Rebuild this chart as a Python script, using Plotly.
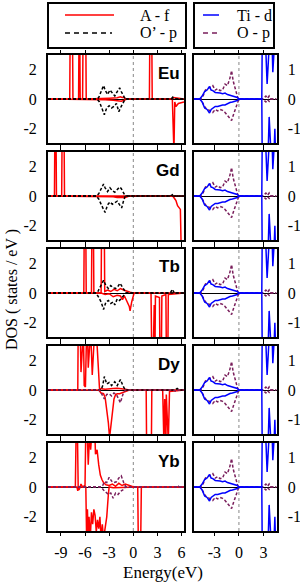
import plotly.graph_objects as go

# ---------------- data (energies in eV, DOS in states/eV) ----------------
COMPOUNDS = ["Eu", "Gd", "Tb", "Dy", "Yb"]
LEFT_TICKS = [-9, -6, -3, 0, 3, 6]
RIGHT_TICKS = [-3, 0, 3]
LEFT_Y_TICKS = [-2, 0, 2]
RIGHT_Y_TICKS = [-1, 0, 1]

# Eu
EU_F_UP_E = [-10.6, -7.9, -7.85, -7.8, -7.6, -7.55, -7.5, -6.8, -6.75, -6.65, -6.6, -6.3, -6.25, -6.1, -6.0, -5.9, -5.85, -4.3, -3.0, -2.0, -1.6, -1.4, -1.2, -0.9, 2.0, 2.05, 2.3, 2.35, 4.8, 5.0, 6.3]
EU_F_UP = [0, 0, 4, 4, 4, 4, 0, 0, 4, 4, 0, 0, 4, 4, 4, 4, 0, 0, 0.05, 0.08, 0.15, 0.1, 0.12, 0, 0, 4, 4, 0, 0, 0.1, 0]
EU_F_DN_E = [-10.6, -4.3, -3.5, -2.5, -2.0, -1.5, -1.2, -0.8, 4.85, 4.95, 5.05, 5.15, 5.3, 5.6, 6.3]
EU_F_DN = [0, 0, -0.05, -0.08, -0.1, -0.15, -0.1, 0, 0, -3.5, -3.5, -0.2, -0.5, -0.3, -0.2]
EU_OP_UP_E = [-10.6, -4.5, -4.3, -4.0, -3.7, -3.5, -3.2, -2.9, -2.6, -2.3, -2.0, -1.7, -1.5, -1.2, -1.0, 4.7, 4.9, 5.1, 6.3]
EU_OP_UP = [0, 0, 0.1, 0.5, 0.9, 0.6, 0.3, 0.6, 0.4, 0.2, 0.5, 0.75, 0.5, 0.2, 0, 0, 0.12, 0, 0]
EU_OP_DN_E = [-10.6, -4.5, -4.2, -3.9, -3.6, -3.3, -3.0, -2.7, -2.4, -2.1, -1.8, -1.5, -1.2, -1.0, 6.3]
EU_OP_DN = [0, 0, -0.2, -0.7, -1.05, -0.6, -0.45, -0.6, -0.5, -0.3, -0.85, -0.5, -0.2, 0, 0]

# Gd
GD_F_UP_E = [-10.6, -9.8, -9.75, -9.6, -9.55, -8.9, -8.85, -8.6, -8.55, -2.0, -1.5, -1.0, -0.5, 6.3]
GD_F_UP = [0, 0, 4, 4, 0, 0, 4, 4, 0, 0, 0.05, 0.05, 0, 0]
GD_F_DN_E = [-10.6, -3.0, -2.5, -2.0, -1.5, -1.0, -0.5, 4.9, 5.1, 5.3, 5.5, 5.7, 5.85, 5.95, 6.3]
GD_F_DN = [0, 0, -0.05, -0.1, -0.12, -0.1, 0, 0, -0.15, -0.3, -0.65, -0.8, -0.9, -3.5, -3.5]
GD_OP_UP_E = [-10.6, -4.6, -4.3, -4.0, -3.7, -3.5, -3.2, -2.9, -2.6, -2.3, -2.0, -1.7, -1.5, -1.2, -1.0, 4.6, 4.9, 5.2, 6.3]
GD_OP_UP = [0, 0, 0.15, 0.5, 0.8, 0.55, 0.3, 0.55, 0.35, 0.25, 0.45, 0.6, 0.5, 0.15, 0, 0, 0.1, 0, 0]
GD_OP_DN_E = [-10.6, -4.6, -4.3, -4.0, -3.7, -3.5, -3.2, -2.9, -2.6, -2.3, -2.0, -1.7, -1.45, -1.2, -1.0, 6.3]
GD_OP_DN = [0, 0, -0.2, -0.6, -0.9, -1.1, -0.6, -0.4, -0.55, -0.45, -0.35, -0.6, -0.8, -0.3, 0, 0]

# Tb
TB_F_UP_E = [-10.6, -6.15, -6.1, -5.9, -5.85, -5.2, -5.15, -4.95, -4.9, -4.0, -3.95, -3.6, -3.55, -3.2, -2.8, -2.4, -2.0, -1.6, -1.2, -0.8, -0.4, 0.0, 6.3]
TB_F_UP = [0, 0, 4, 4, 0, 0, 4, 4, 0, 0, 4, 4, 0.1, 0.2, 0.1, 0.25, 0.15, 0.3, 0.2, 0.1, 0.05, 0, 0]
TB_F_DN_E = [-10.6, -4.0, -3.5, -3.0, -2.5, -2.0, -1.6, -1.35, -1.1, -0.8, -0.5, -0.4, -0.2, 0.1, 2.2, 2.28, 2.5, 2.6, 2.7, 2.75, 3.25, 3.3, 3.5, 3.55, 4.05, 4.1, 4.3, 4.35, 6.3]
TB_F_DN = [0, 0, -0.1, -0.05, -0.25, -0.15, -0.2, -0.45, -0.2, -0.5, -0.9, -1.2, -0.6, 0, 0, -3.5, -3.5, -0.8, -3.5, -0.2, -0.3, -3.5, -3.5, -0.2, -0.1, -3.5, -3.5, -0.1, 0]
TB_OP_UP_E = [-10.6, -4.7, -4.4, -4.1, -3.7, -3.4, -3.1, -2.8, -2.5, -2.2, -1.9, -1.65, -1.4, -1.1, -0.9, 4.6, 4.85, 5.1, 6.3]
TB_OP_UP = [0, 0, 0.1, 0.4, 0.85, 0.5, 0.3, 0.5, 0.35, 0.3, 0.45, 0.65, 0.4, 0.1, 0, 0, 0.25, 0, 0]
TB_OP_DN_E = [-10.6, -4.7, -4.4, -4.0, -3.7, -3.4, -3.1, -2.8, -2.5, -2.3, -2.0, -1.7, -1.4, -1.1, -0.9, 6.3]
TB_OP_DN = [0, 0, -0.2, -0.6, -1.1, -0.6, -0.5, -0.7, -0.6, -0.8, -0.4, -0.5, -0.3, -0.1, 0, 0]

# Dy
DY_F_UP_E = [-10.6, -6.9, -6.85, -6.6, -6.5, -6.4, -6.2, -6.1, -5.95, -5.8, -5.7, -5.6, -5.4, -5.3, -5.1, -5.0, -4.8, -4.6, -4.4, -4.3, -4.2, -3.5, -3.0, -2.5, -2.0, -1.5, -1.0, -0.5, 6.3]
DY_F_UP = [0, 0, 4, 4, 1.2, 4, 4, 0.3, 0.2, 4, 4, 1.5, 4, 4, 1.0, 4, 4, 4, 1.5, 0.4, 0.1, 0.05, 0.1, 0.1, 0.12, 0.1, 0.05, 0, 0]
DY_F_DN_E = [-10.6, -4.3, -4.0, -3.7, -3.5, -3.3, -3.1, -2.95, -2.8, -2.6, -2.4, -2.2, -2.0, -1.7, -1.4, -1.0, -0.5, 1.6, 1.65, 2.25, 2.3, 3.65, 3.7, 3.8, 3.9, 4.05, 4.1, 4.3, 4.35, 4.5, 6.3]
DY_F_DN = [0, 0, -0.2, -0.25, -0.5, -1.2, -2.2, -3.2, -2.4, -1.3, -0.6, -0.3, -0.25, -0.25, -0.2, -0.1, 0, 0, -3.5, -3.5, 0, 0, -3.5, -3.5, -0.6, -3.5, -0.3, -3.5, -3.5, -0.1, 0]
DY_OP_UP_E = [-10.6, -4.0, -3.8, -3.6, -3.3, -3.0, -2.7, -2.3, -2.0, -1.6, -1.3, -1.0, 5.2, 5.45, 5.7, 6.3]
DY_OP_UP = [0, 0, 0.3, 0.9, 0.4, 0.5, 0.3, 0.55, 0.3, 0.7, 0.3, 0, 0, 0.1, 0, 0]
DY_OPB_DN_E = [-10.6, -4.2, -3.9, -3.6, -3.3, -3.0, -2.7, -2.4, -2.1, -1.8, -1.6, -1.3, -1.0, 5.0, 5.3, 5.6, 6.3]
DY_OPB_DN = [0, 0, -0.3, -0.6, -0.3, -0.25, -0.4, -0.2, -0.3, -0.6, -0.85, -0.3, 0, 0, -0.1, 0, 0]

# Yb
YB_F_UP_E = [-10.6, -7.2, -7.1, -6.95, -6.85, -6.75, -6.6, -6.5, -6.3, -6.0, -5.9, -5.75, -5.6, -5.4, -5.3, -5.1, -5.0, -4.8, -4.7, -4.5, -4.3, -4.1, -3.9, -3.7, -3.4, -3.0, -2.6, -2.2, -1.8, -1.4, -1.0, -0.6, -0.2, 0.2, 6.3]
YB_F_UP = [0, 0, 4, 4, 0, -0.2, 0, 0.2, 0, 0.1, 4, 4, 1.5, 4, 2.5, 4, 3.0, 4, 2.2, 2.5, 1.5, 0.8, 0.5, 0.3, 0.15, 0.1, 0.2, 0.05, 0.25, 0.1, 0.2, 0.1, 0.05, 0, 0]
YB_F_DN_E = [-10.6, -7.0, -6.9, -6.8, -5.9, -5.8, -5.7, -5.6, -5.5, -5.35, -5.2, -5.05, -4.9, -4.75, -4.6, -4.45, -4.3, -4.15, -4.0, -3.85, -3.7, -3.5, -3.3, -3.1, -3.0, -2.5, -2.0, -1.5, -1.0, 0.55, 0.62, 0.92, 1.0, 6.3]
YB_F_DN = [0, 0, -0.25, 0, 0, -3.5, -1.5, -3.5, -2.0, -3.5, -1.7, -2.5, -1.5, -1.9, -3.0, -2.2, -2.8, -2.0, -3.5, -2.5, -3.5, -2.8, -2.0, -0.5, 0, -0.05, -0.05, -0.05, 0, 0, -3.5, -3.5, 0, 0]
YB_OPB_UP_E = [-10.6, -4.0, -3.8, -3.6, -3.3, -3.0, -2.7, -2.4, -2.1, -1.8, -1.5, -1.2, -0.9, 5.3, 5.5, 5.7, 6.3]
YB_OPB_UP = [0, 0, 0.1, 0.35, 0.3, 0.65, 0.4, 0.3, 0.35, 0.6, 0.75, 0.3, 0, 0, 0.1, 0, 0]
YB_OPB_DN_E = [-10.6, -4.0, -3.7, -3.4, -3.1, -2.8, -2.5, -2.2, -1.9, -1.6, -1.3, -1.0, 6.3]
YB_OPB_DN = [0, 0, -0.2, -0.35, -0.5, -0.4, -0.75, -0.4, -0.5, -0.3, -0.2, 0, 0]

# Right panels: Ti-d and O-p (same for all compounds)
TI_E = [-5.5, -4.8, -4.5, -4.2, -3.9, -3.6, -3.4, -3.2, -2.9, -2.6, -2.3, -2.0, -1.7, -1.4, -1.1, -0.8, -0.5, -0.2, 0.0, 2.8, 2.88, 2.95, 3.1, 3.45, 3.7, 3.95, 4.15, 4.4, 4.6]
TI_UP = [0, 0, 0.1, 0.25, 0.3, 0.42, 0.3, 0.28, 0.22, 0.22, 0.2, 0.18, 0.2, 0.15, 0.12, 0.1, 0.08, 0.05, 0, 0, 3.0, 3.0, 3.0, 0.5, 3.0, 3.0, 0.9, 3.0, 3.0]
TI_DN = [0, 0, -0.1, -0.3, -0.35, -0.47, -0.35, -0.3, -0.25, -0.25, -0.22, -0.2, -0.2, -0.15, -0.12, -0.1, -0.08, -0.05, 0, 0, -3.0, -3.0, -3.0, -3.0, -0.6, -3.0, -3.0, -1.0, -3.0]
OP_E = [-5.5, -4.7, -4.4, -4.1, -3.8, -3.5, -3.2, -2.9, -2.6, -2.3, -2.0, -1.7, -1.4, -1.1, -0.9, -0.7, -0.4, -0.15, 0.0, 2.9, 3.1, 3.3, 3.5, 3.7, 3.9, 4.6]
OP_UP = [0, 0, 0.1, 0.3, 0.35, 0.4, 0.45, 0.3, 0.35, 0.28, 0.3, 0.5, 0.45, 0.7, 0.95, 0.6, 0.3, 0.05, 0, 0, 0.05, 0.1, 0.02, 0.1, 0, 0]
OP_DN = [0, 0, -0.15, -0.3, -0.35, -0.4, -0.45, -0.35, -0.4, -0.35, -0.38, -0.45, -0.55, -0.62, -0.72, -0.55, -0.3, -0.1, 0, 0, -0.05, -0.1, -0.02, -0.08, 0, 0]

# ---------------- styling ----------------
W, H = 300, 582
RED = "#ff0000"
BLACK = "#000000"
BLUE = "#0000ff"
PURPLE = "#7a1f5c"
SERIF = "Liberation Serif"
SANS = "Liberation Sans"
CURVE_DASH = "3px,2px"
LEGEND_DASH = "5px,4px"

LX = (48, 184)
RX = (194, 276.5)
LEFT_RANGE = [-10.6, 6.3]
RIGHT_RANGE = [-5.5, 4.6]
LEFT_YR = [-2.95, 2.95]
RIGHT_YR = [-1.475, 1.475]

left_series = {
    "Eu": [(EU_F_UP_E, EU_F_UP, RED, "solid"), (EU_F_DN_E, EU_F_DN, RED, "solid"),
           (EU_OP_UP_E, EU_OP_UP, BLACK, CURVE_DASH), (EU_OP_DN_E, EU_OP_DN, BLACK, CURVE_DASH)],
    "Gd": [(GD_F_UP_E, GD_F_UP, RED, "solid"), (GD_F_DN_E, GD_F_DN, RED, "solid"),
           (GD_OP_UP_E, GD_OP_UP, BLACK, CURVE_DASH), (GD_OP_DN_E, GD_OP_DN, BLACK, CURVE_DASH)],
    "Tb": [(TB_F_UP_E, TB_F_UP, RED, "solid"), (TB_F_DN_E, TB_F_DN, RED, "solid"),
           (TB_OP_UP_E, TB_OP_UP, BLACK, CURVE_DASH), (TB_OP_DN_E, TB_OP_DN, BLACK, CURVE_DASH)],
    "Dy": [(DY_F_UP_E, DY_F_UP, RED, "solid"), (DY_F_DN_E, DY_F_DN, RED, "solid"),
           (DY_OP_UP_E, DY_OP_UP, BLACK, CURVE_DASH), (DY_OPB_DN_E, DY_OPB_DN, PURPLE, CURVE_DASH)],
    "Yb": [(YB_F_UP_E, YB_F_UP, RED, "solid"), (YB_F_DN_E, YB_F_DN, RED, "solid"),
           (YB_OPB_UP_E, YB_OPB_UP, PURPLE, CURVE_DASH), (YB_OPB_DN_E, YB_OPB_DN, PURPLE, CURVE_DASH)],
}
right_series = [(OP_E, OP_UP, PURPLE, CURVE_DASH), (OP_E, OP_DN, PURPLE, CURVE_DASH),
                (TI_E, TI_UP, BLUE, "solid"), (TI_E, TI_DN, BLUE, "solid")]

fig = go.Figure()
layout = dict(width=W, height=H, margin=dict(l=0, r=0, t=0, b=0), autosize=False,
              paper_bgcolor="white", plot_bgcolor="white", showlegend=False,
              font=dict(family=SERIF, size=16, color="black"))
shapes = []
annotations = []

def px2fx(px):
    return px / W

def py2fy(py):
    return 1 - py / H

for i, name in enumerate(COMPOUNDS):
    top = 55 + 97 * i
    bot = top + 88
    ydom = [py2fy(bot), py2fy(top)]
    last = i == len(COMPOUNDS) - 1
    for j, side in enumerate(["left", "right"]):
        k = 2 * i + j + 1
        xa = "xaxis" if k == 1 else f"xaxis{k}"
        ya = "yaxis" if k == 1 else f"yaxis{k}"
        xr = "x" if k == 1 else f"x{k}"
        yr = "y" if k == 1 else f"y{k}"
        if side == "left":
            xdom = [px2fx(LX[0]), px2fx(LX[1])]
            xrange_, xt, yrange_, yt = LEFT_RANGE, LEFT_TICKS, LEFT_YR, LEFT_Y_TICKS
            series = left_series[name]
        else:
            xdom = [px2fx(RX[0]), px2fx(RX[1])]
            xrange_, xt, yrange_, yt = RIGHT_RANGE, RIGHT_TICKS, RIGHT_YR, RIGHT_Y_TICKS
            series = right_series
        layout[xa] = dict(domain=xdom, anchor=yr, range=xrange_, tickvals=xt,
                          ticktext=[str(v) for v in xt], showticklabels=last,
                          ticks="outside", ticklen=3, tickwidth=1, tickcolor="black",
                          showline=True, linewidth=2, linecolor="black", mirror="allticks",
                          showgrid=False, zeroline=False, automargin=False,
                          tickfont=dict(family=SERIF, size=16), ticklabelstandoff=3)
        layout[ya] = dict(domain=ydom, anchor=xr, range=yrange_, tickvals=yt,
                          ticktext=[str(v) for v in yt], side=side,
                          showline=True, linewidth=2, linecolor="black", mirror=True,
                          ticks="", showgrid=False, zeroline=True, zerolinecolor="black",
                          zerolinewidth=1.3, automargin=False,
                          tickfont=dict(family=SERIF, size=16), ticklabelstandoff=6)
        # Fermi level dotted line
        shapes.append(dict(type="line", xref=xr, yref=f"{yr} domain", x0=0, x1=0, y0=0, y1=1,
                           line=dict(color="#888888", width=1, dash="dot"), layer="below"))
        for (ex, vy, col, dash) in series:
            fig.add_trace(go.Scatter(x=ex, y=vy, mode="lines", xaxis=xr, yaxis=yr,
                                     line=dict(color=col, width=1.5, dash=dash),
                                     hoverinfo="skip"))
    annotations.append(dict(text=f"<b>{name}</b>", xref="paper", yref="paper",
                            x=px2fx(182), y=py2fy(top + 18), xanchor="right", yanchor="middle",
                            showarrow=False, font=dict(family=SANS, size=17, color="black")))

# legend boxes
for (x0, x1) in [(48, 186), (194, 274)]:
    shapes.append(dict(type="rect", xref="paper", yref="paper", x0=px2fx(x0), x1=px2fx(x1),
                       y0=py2fy(48), y1=py2fy(3), line=dict(color="black", width=2)))
legend_items = [
    ("A - f", RED, "solid", 65, 114, 138, 15),
    ("O’ - p", BLACK, LEGEND_DASH, 65, 112, 138, 33),
    ("Ti - d", BLUE, "solid", 203, 219, 235, 15),
    ("O - p", PURPLE, LEGEND_DASH, 203, 219, 235, 33),
]
for (label, col, dash, lx0, lx1, tx, ty) in legend_items:
    shapes.append(dict(type="line", xref="paper", yref="paper", x0=px2fx(lx0), x1=px2fx(lx1),
                       y0=py2fy(ty), y1=py2fy(ty), line=dict(color=col, width=1.5, dash=dash)))
    annotations.append(dict(text=label, xref="paper", yref="paper", x=px2fx(tx), y=py2fy(ty),
                            xanchor="left", yanchor="middle", showarrow=False,
                            font=dict(family=SERIF, size=16, color="black")))

annotations.append(dict(text="Energy(eV)", xref="paper", yref="paper", x=px2fx(163), y=py2fy(572),
                        xanchor="center", yanchor="middle", showarrow=False,
                        font=dict(family=SERIF, size=17, color="black")))
annotations.append(dict(text="DOS ( states / eV )", xref="paper", yref="paper", x=px2fx(12),
                        y=py2fy(290), xanchor="center", yanchor="middle", textangle=-90,
                        showarrow=False, font=dict(family=SERIF, size=16, color="black")))

layout["shapes"] = shapes
layout["annotations"] = annotations
fig.update_layout(**layout)
fig.write_html("out.html", config={"displayModeBar": False},
               post_script="document.body.style.margin='0';document.body.style.overflow='hidden';")
